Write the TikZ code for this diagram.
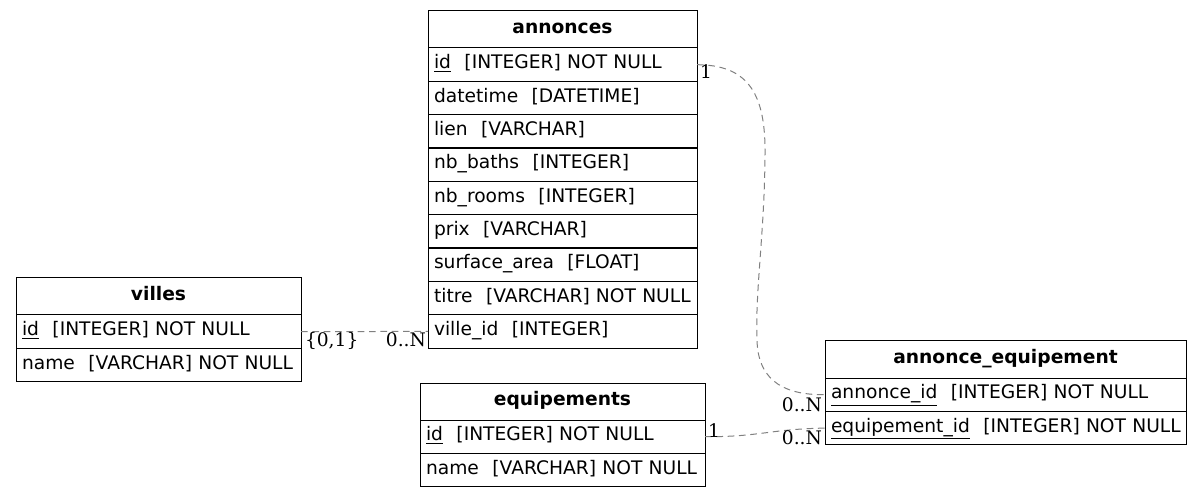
\documentclass[tikz,border=0pt]{standalone}
\usepackage{fontspec}
\setmainfont{DejaVu Sans}
\newfontfamily\lblfont{DejaVu Serif}
\newcommand\fld[2]{\mbox{#1\hspace{0.72em}#2}}
\newcommand\pk[1]{\underline{#1}}
\begin{document}
\begin{tikzpicture}[x=0.75pt,y=-0.75pt,
 every node/.style={font=\fontsize{14}{16}\selectfont, inner sep=0pt, outer sep=0pt},
 hd/.style={draw=black, line width=0.75pt, anchor=north west, minimum width=#1, minimum height=27.75pt, text height=9.75pt, text depth=3.75pt, font=\fontsize{14}{16}\selectfont\bfseries},
 rw/.style={draw=black, line width=0.75pt, anchor=north west, text width=#1, inner xsep=4.5pt, minimum height=25.05pt, align=left, text height=9.75pt, text depth=3.75pt},
 rel/.style={draw=gray, line width=0.75pt, dash pattern=on 5pt off 3.5pt},
 card/.style={font=\fontsize{14}{16}\selectfont\lblfont},
]
\useasboundingbox (0,0) rectangle (1201,498);

% annonces
\node[hd=201.75pt] (an_h) at (428,11) {annonces};
\node[rw=192.75pt] (an_id)  at (428,48)     {\fld{\pk{id}}{[INTEGER] NOT NULL}};
\node[rw=192.75pt] (an_dt)  at (428,81.33)  {\fld{datetime}{[DATETIME]}};
\node[rw=192.75pt] (an_li)  at (428,114.67) {\fld{lien}{[VARCHAR]}};
\node[rw=192.75pt] (an_nb)  at (428,148)    {\fld{nb\_baths}{[INTEGER]}};
\node[rw=192.75pt] (an_nr)  at (428,181.33) {\fld{nb\_rooms}{[INTEGER]}};
\node[rw=192.75pt] (an_pr)  at (428,214.67) {\fld{prix}{[VARCHAR]}};
\node[rw=192.75pt] (an_sa)  at (428,248)    {\fld{surface\_area}{[FLOAT]}};
\node[rw=192.75pt] (an_ti)  at (428,281.33) {\fld{titre}{[VARCHAR] NOT NULL}};
\node[rw=192.75pt] (an_vid) at (428,314.67) {\fld{ville\_id}{[INTEGER]}};

% villes
\node[hd=213.75pt] (vi_h) at (16,278) {villes};
\node[rw=204.75pt] (vi_id) at (16,315)   {\fld{\pk{id}}{[INTEGER] NOT NULL}};
\node[rw=204.75pt] (vi_nm) at (16,348.4) {\fld{name}{[VARCHAR] NOT NULL}};

% equipements
\node[hd=213.75pt] (eq_h) at (420,383) {equipements};
\node[rw=204.75pt] (eq_id) at (420,420)   {\fld{\pk{id}}{[INTEGER] NOT NULL}};
\node[rw=204.75pt] (eq_nm) at (420,453.4) {\fld{name}{[VARCHAR] NOT NULL}};

% annonce_equipement
\node[hd=270.75pt] (ae_h) at (825,341) {annonce\_equipement};
\node[rw=261.75pt] (ae_aid) at (825,378)   {\fld{\pk{annonce\_id}}{[INTEGER] NOT NULL}};
\node[rw=261.75pt] (ae_eid) at (825,411.4) {\fld{\pk{equipement\_id}}{[INTEGER] NOT NULL}};

% relations
\draw[rel] (vi_id.east) -- (an_vid.west);
\draw[rel] (an_id.east) .. controls (745,65) and (765,90) .. (765,150)
  .. controls (765,230) and (755,290) .. (757,340)
  .. controls (758,385) and (790,395) .. (ae_aid.west);
\draw[rel] (eq_id.east) .. controls (760,437) and (770,429) .. (ae_eid.west);

% cardinalities
\node[card, anchor=base west] (c1) at (305,347) {\{0,1\}};
\node[card, anchor=base east] (c2) at (426,347) {0..N};
\node[card, anchor=base west] (c3) at (700,79) {1};
\node[card, anchor=base east] (c4) at (822,411) {0..N};
\node[card, anchor=base west] (c5) at (708,437) {1};
\node[card, anchor=base east] (c6) at (822,444) {0..N};
\end{tikzpicture}
\end{document}
